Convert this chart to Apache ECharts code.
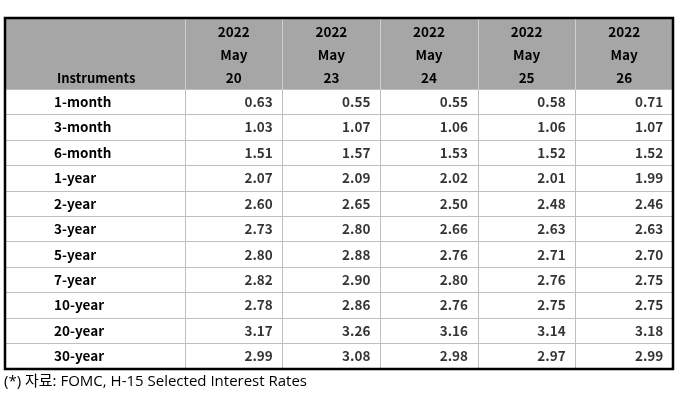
<!DOCTYPE html>
<html>
<head>
<meta charset="utf-8">
<script src="https://cdn.jsdelivr.net/npm/echarts@6/dist/echarts.min.js"></script>
<style>html,body{margin:0;padding:0;background:#fff}#c{width:681px;height:401px}</style>
</head>
<body>
<div id="c"></div>
<script>
const instruments = ['1-month','3-month','6-month','1-year','2-year','3-year','5-year','7-year','10-year','20-year','30-year'];
const year = '2022';
const month = 'May';
const days = ['20','23','24','25','26'];
const may20 = [0.63,1.03,1.51,2.07,2.60,2.73,2.80,2.82,2.78,3.17,2.99];
const may23 = [0.55,1.07,1.57,2.09,2.65,2.80,2.88,2.90,2.86,3.26,3.08];
const may24 = [0.55,1.06,1.53,2.02,2.50,2.66,2.76,2.80,2.76,3.16,2.98];
const may25 = [0.58,1.06,1.52,2.01,2.48,2.63,2.71,2.76,2.75,3.14,2.97];
const may26 = [0.71,1.07,1.52,1.99,2.46,2.63,2.70,2.75,2.75,3.18,2.99];
const headerTitle = 'Instruments';
const footnote = '(*) 자료: FOMC, H-15 Selected Interest Rates';

const columns = [may20, may23, may24, may25, may26];
const cells = [];
columns.forEach((col, ci) => col.forEach((v, ri) => cells.push([days[ci], instruments[ri], v])));

const FONT = '"Noto Sans CJK KR", "Open Sans", sans-serif';
const chart = echarts.init(document.getElementById('c'), null, {renderer: 'canvas'});
chart.setOption({
  animation: false,
  backgroundColor: '#ffffff',
  title: [
    {text: headerTitle, left: 52, top: 67, textStyle: {fontFamily: FONT, fontSize: 13, fontWeight: 'bold', color: '#000'}},
    {text: footnote, left: -1, top: 369, textStyle: {fontFamily: '"Open Sans", "Noto Sans CJK KR", sans-serif', fontSize: 15, fontWeight: 'normal', color: '#000'}}
  ],
  graphic: [
    {type: 'rect', shape: {x: 5, y: 18, width: 668, height: 71}, style: {fill: '#a6a6a6'}, z: -10, silent: true},
    {type: 'rect', shape: {x: 5, y: 18, width: 668, height: 351}, style: {fill: null, stroke: '#000', lineWidth: 2.5}, z: 100, silent: true}
  ],
  grid: [
    {left: 5, width: 180, top: 89, height: 280},
    {left: 185, right: 8, top: 89, height: 280}
  ],
  xAxis: [
    {gridIndex: 0, type: 'value', show: false},
    {gridIndex: 1, type: 'category', data: days, position: 'top',
     axisLine: {show: false},
     axisTick: {show: true, interval: 0, length: 71, lineStyle: {color: '#d0d0d0', width: 1}},
     axisLabel: {interval: 0, margin: 0, fontFamily: FONT, fontSize: 13.5, fontWeight: 'bold', color: '#000', lineHeight: 23,
       formatter: d => year + '\n' + month + '\n' + d},
     splitLine: {show: true, interval: 0, lineStyle: {color: '#bfbfbf', width: 1}}}
  ],
  yAxis: [
    {gridIndex: 0, type: 'category', data: instruments, inverse: true,
     axisLine: {show: false}, axisTick: {show: false},
     axisLabel: {inside: true, align: 'left', margin: 49, fontFamily: FONT, fontSize: 13.5, fontWeight: 'bold', color: '#000'},
     splitLine: {show: true, interval: 0, lineStyle: {color: '#bfbfbf', width: 1}}},
    {gridIndex: 1, type: 'category', data: instruments, inverse: true,
     axisLine: {show: false}, axisTick: {show: false}, axisLabel: {show: false},
     splitLine: {show: true, interval: 0, lineStyle: {color: '#bfbfbf', width: 1}}}
  ],
  series: [{
    type: 'scatter', xAxisIndex: 1, yAxisIndex: 1, data: cells,
    symbolSize: 1, itemStyle: {color: 'rgba(0,0,0,0)'},
    label: {show: true, position: 'inside', align: 'right', offset: [39, 0],
      fontFamily: FONT, fontSize: 13.5, fontWeight: 'bold', color: '#000',
      formatter: p => p.value[2].toFixed(2)}
  }]
});
</script>
</body>
</html>
